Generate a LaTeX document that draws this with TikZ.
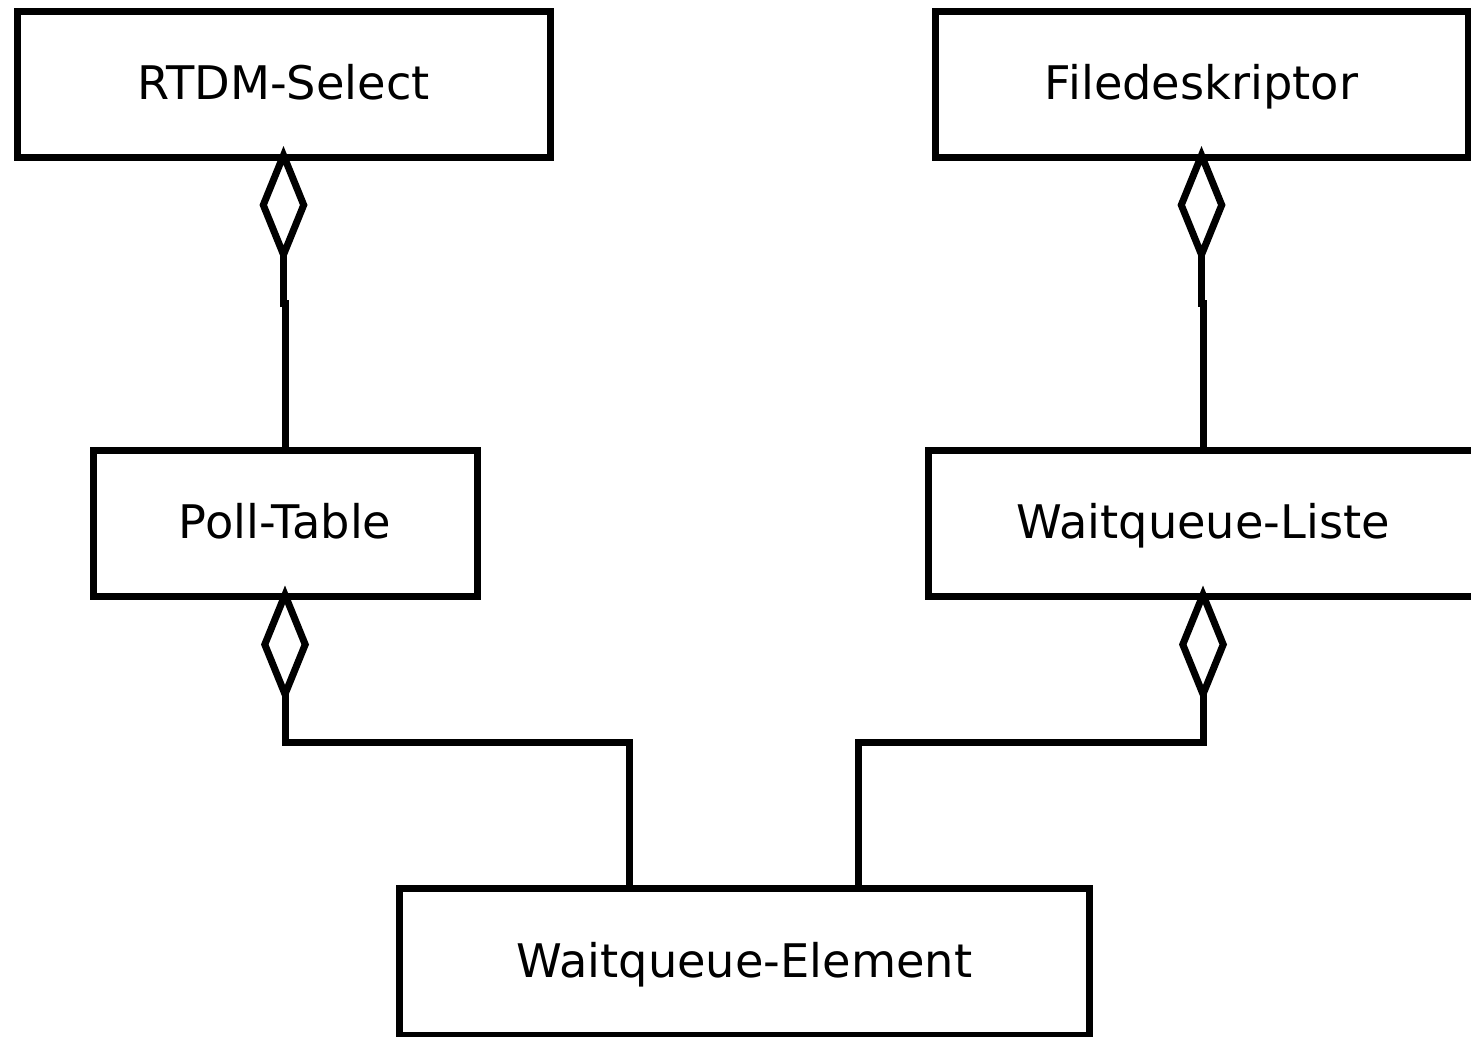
\documentclass[tikz,border=0pt]{standalone}
\usepackage{fontspec}
\setmainfont{DejaVu Sans}
\usetikzlibrary{arrows.meta}
\begin{document}
\begin{tikzpicture}[x=1pt,y=-1pt,
  cls/.style={draw, line width=7pt, rectangle, inner sep=0pt, outer sep=0pt,
    minimum height=146pt, text height=38pt, text depth=8pt,
    font=\fontsize{46.3}{55}\selectfont},
  link/.style={line width=7pt, line join=miter},
  aggr/.style={link, shorten >=-11pt, -{Diamond[open, length=118pt, width=48pt]}}]
\clip (0,0) rectangle (1471,1036);
% classes
\node[cls, minimum width=533pt] (rtdm) at (283.5,84) {RTDM-Select};
\node[cls, minimum width=533pt] (fd)   at (1201.5,84) {Filedeskriptor};
\node[cls, minimum width=384pt] (poll) at (285,523.5) {Poll-Table};
\node[cls, minimum width=550pt] (wql)  at (1203,523.5) {Waitqueue-Liste};
\node[cls, minimum width=689.5pt, minimum height=147pt] (wqe) at (744.25,962) {Waitqueue-Element};
% aggregations
\draw[aggr] (poll.north) -- ++(0,-147) -- ++(-1.5,0) -- (rtdm.south);
\draw[aggr] (wql.north) -- ++(0,-147) -- ++(-1.5,0) -- (fd.south);
\draw[aggr] ([xshift=-114.75pt]wqe.north) -- ++(0,-146) -| (poll.south);
\draw[aggr] ([xshift=114.25pt]wqe.north) -- ++(0,-146) -| (wql.south);
\end{tikzpicture}
\end{document}
